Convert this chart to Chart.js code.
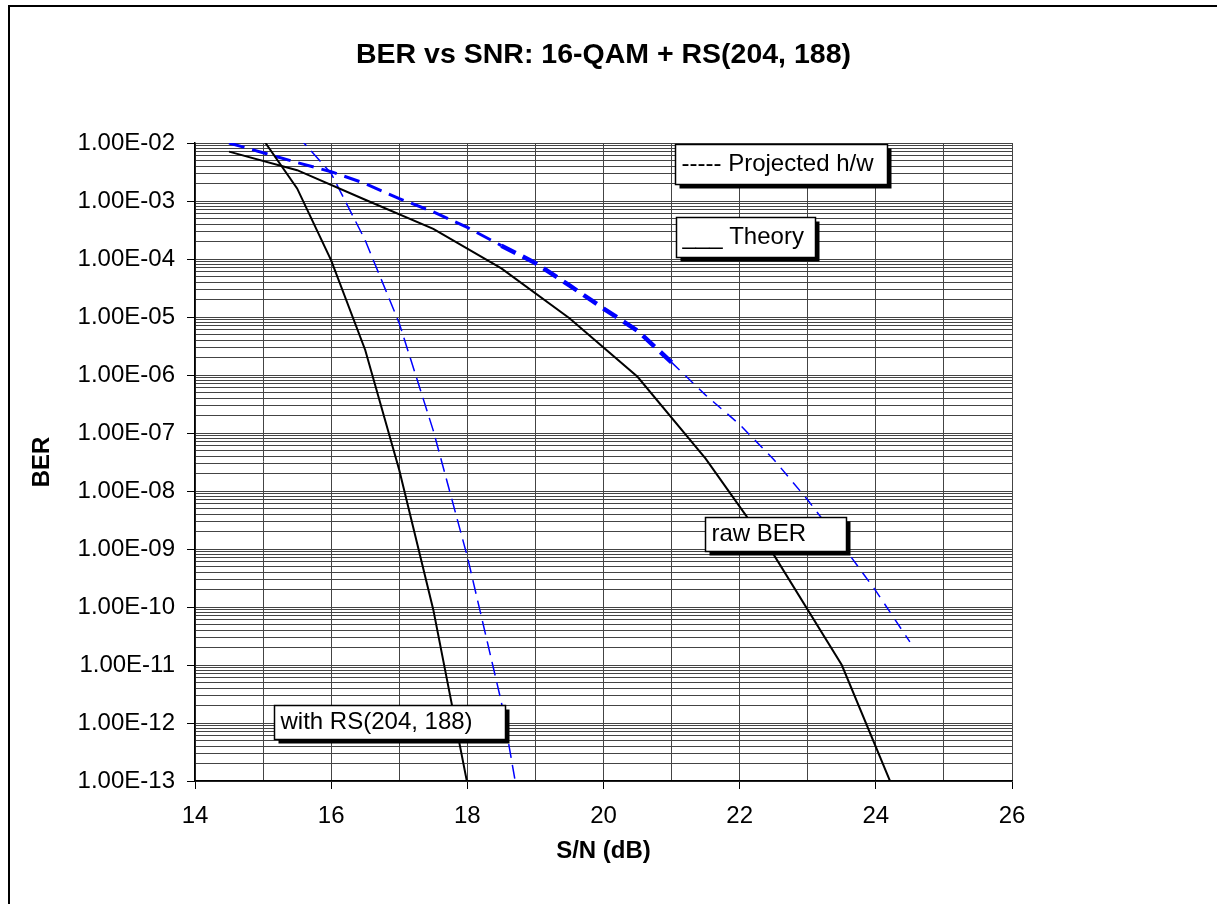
<!DOCTYPE html>
<html>
<head>
<meta charset="utf-8">
<script src="https://cdn.jsdelivr.net/npm/chart.js@4.4.1/dist/chart.umd.min.js"></script>
<style>
  html, body { margin:0; padding:0; background:#fff; overflow:hidden; }
  #frame { position:absolute; left:8px; top:5px; width:1400px; height:1100px; border:2px solid #000; }
  #wrap  { position:absolute; left:0; top:0; width:1217px; height:904px; }
</style>
</head>
<body>
<div id="frame"></div>
<div id="wrap"><canvas id="berChart" width="1217" height="904"></canvas></div>
<script>
'use strict';

// ── data (S/N in dB, BER)
const snrTheoryRaw = [14.5, 15.5, 16.5, 17.5, 18.5, 19.5, 20.5, 21.5, 22.5, 23.5, 24.5];
const berTheoryRaw = [7.1e-3, 3.4e-3, 1.05e-3, 3.3e-4, 6.9e-5, 9.5e-6, 9.3e-7, 3.6e-8, 8e-10, 1e-11, 1.5e-14];

const snrTheoryRS = [15, 15.5, 16, 16.5, 17, 17.5, 18];
const berTheoryRS = [1.15e-2, 1.65e-3, 9.5e-5, 2.7e-6, 2.3e-8, 9e-11, 9e-14];

const snrProjRaw = [14.5, 15, 15.5, 16, 16.5, 17, 17.5, 18, 18.5, 19, 19.5, 20, 20.5, 21, 21.5, 22, 22.5, 23, 23.5, 24, 24.5];
const berProjRaw = [1e-2, 6.8e-3, 4.6e-3, 3.2e-3, 2e-3, 1.1e-3, 6.5e-4, 3.5e-4, 1.7e-4, 8.5e-5, 3.5e-5, 1.4e-5, 5.8e-6, 1.65e-6,
                    4.5e-7, 1.4e-7, 3.5e-8, 7e-9, 1.2e-9, 1.9e-10, 2.5e-11];

const snrProjRS = [15.5, 16, 16.5, 17, 17.5, 18, 18.5, 19];
const berProjRS = [1.35e-2, 3e-3, 2.1e-4, 7.8e-6, 1.1e-7, 7.4e-10, 2.3e-12, 1e-15];

const xTickLabels = ['14', '16', '18', '20', '22', '24', '26'];
const yTickLabels = ['1.00E-02', '1.00E-03', '1.00E-04', '1.00E-05', '1.00E-06', '1.00E-07',
                     '1.00E-08', '1.00E-09', '1.00E-10', '1.00E-11', '1.00E-12', '1.00E-13'];

const TITLE  = 'BER vs SNR: 16-QAM + RS(204, 188)';
const FONT   = "'Liberation Sans', Arial, sans-serif";
const BLUE   = '#0000ff';

// text boxes, anchored in data units (top-left corner)
const notes = [
  { text:'----- Projected h/w', x:21.05, y:Math.pow(10, -2.02),  w:212, h:40 },
  { text:'___ Theory',          x:21.06, y:Math.pow(10, -3.28),  w:139, h:40 },
  { text:'raw BER',             x:21.49, y:Math.pow(10, -8.45),  w:141, h:34 },
  { text:'with RS(204, 188)',   x:15.16, y:Math.pow(10, -11.69), w:231, h:34 },
];

const pts = (xs, ys) => xs.map((x, i) => ({ x, y: ys[i] }));
const isDecade = v => Math.abs(Math.log10(v) - Math.round(Math.log10(v))) < 1e-6;

// ── plugins: title over the plot area, and the boxed notes
const titlePlugin = {
  id: 'plotTitle',
  afterDraw(chart) {
    const { ctx, chartArea } = chart;
    ctx.save();
    ctx.font = 'bold 28.5px ' + FONT;
    ctx.fillStyle = '#000';
    ctx.textAlign = 'center';
    ctx.textBaseline = 'middle';
    ctx.fillText(TITLE, (chartArea.left + chartArea.right) / 2, 55);
    ctx.restore();
  }
};

const notesPlugin = {
  id: 'notes',
  afterDatasetsDraw(chart) {
    const { ctx, scales } = chart;
    ctx.save();
    notes.forEach(n => {
      const x = Math.round(scales.x.getPixelForValue(n.x)) + 0.5;
      const y = Math.round(scales.y.getPixelForValue(n.y)) + 0.5;
      ctx.fillStyle = '#000';
      ctx.fillRect(x + 4, y + 4, n.w, n.h);
      ctx.fillStyle = '#fff';
      ctx.fillRect(x, y, n.w, n.h);
      ctx.strokeStyle = '#000';
      ctx.lineWidth = 1.5;
      ctx.strokeRect(x, y, n.w, n.h);
      ctx.fillStyle = '#000';
      ctx.font = '24px ' + FONT;
      ctx.textAlign = 'left';
      ctx.textBaseline = 'middle';
      ctx.fillText(n.text, x + 6, y + n.h / 2);
    });
    ctx.restore();
  }
};

new Chart(document.getElementById('berChart'), {
  type: 'line',
  data: {
    datasets: [
      { label:'Theory raw', data:pts(snrTheoryRaw, berTheoryRaw), borderColor:'#000', borderWidth:2 },
      { label:'Theory RS',  data:pts(snrTheoryRS, berTheoryRS),   borderColor:'#000', borderWidth:2 },
      { label:'Projected raw', data:pts(snrProjRaw, berProjRaw), borderColor:BLUE, borderWidth:3, borderDash:[16, 8],
        segment: {
          borderWidth: c => c.p0.parsed.x >= 21 ? 1.5 : (c.p0.parsed.x >= 18.5 ? 4.5 : 3),
          borderDash:  c => c.p0.parsed.x >= 21 ? [11, 8] : [16, 8],
        } },
      { label:'Projected RS',  data:pts(snrProjRS, berProjRS), borderColor:BLUE, borderWidth:1.5, borderDash:[14, 7] },
    ]
  },
  options: {
    responsive: false,
    animation: false,
    events: [],
    elements: { point: { radius: 0 }, line: { tension: 0 } },
    layout: { padding: { left: 28, right: 205, top: 143, bottom: 38 } },
    plugins: { legend: { display: false }, tooltip: { enabled: false }, title: { display: false } },
    scales: {
      x: {
        type: 'linear', min: 14, max: 26,
        afterFit: s => { s.height = 85; },
        border: { color: '#000', width: 1.5 },
        grid: { color: '#444', lineWidth: 1, tickLength: 8,
                tickColor: c => (c.tick && c.tick.value % 2 === 0) ? '#000' : 'rgba(0,0,0,0)' },
        ticks: { stepSize: 1, autoSkip: false, maxRotation: 0, color: '#000', padding: 13,
                 font: { family: FONT, size: 24 },
                 callback: v => v % 2 === 0 ? xTickLabels[(v - 14) / 2] : '' },
        title: { display: true, text: 'S/N (dB)', color: '#000', padding: 0,
                 font: { family: FONT, size: 24, weight: 'bold' } }
      },
      y: {
        type: 'logarithmic', min: 1e-13, max: 1e-2,
        afterFit: s => { s.width = 167; },
        afterBuildTicks: s => {
          const t = [];
          for (let e = -13; e <= -2; e++) {
            for (let m = 1; m <= 9; m++) {
              if (e === -2 && m > 1) break;
              t.push({ value: m * Math.pow(10, e) });
            }
          }
          s.ticks = t;
        },
        border: { color: '#000', width: 1.5 },
        grid: { color: '#444', lineWidth: 1, tickLength: 8,
                tickColor: c => (c.tick && isDecade(c.tick.value)) ? '#000' : 'rgba(0,0,0,0)' },
        ticks: { autoSkip: false, color: '#000', padding: 12,
                 font: { family: FONT, size: 24 },
                 callback: v => isDecade(v) ? yTickLabels[-2 - Math.round(Math.log10(v))] : '' },
        title: { display: true, text: 'BER', color: '#000', padding: 0,
                 font: { family: FONT, size: 24, weight: 'bold' } }
      }
    }
  },
  plugins: [titlePlugin, notesPlugin]
});
</script>
</body>
</html>
